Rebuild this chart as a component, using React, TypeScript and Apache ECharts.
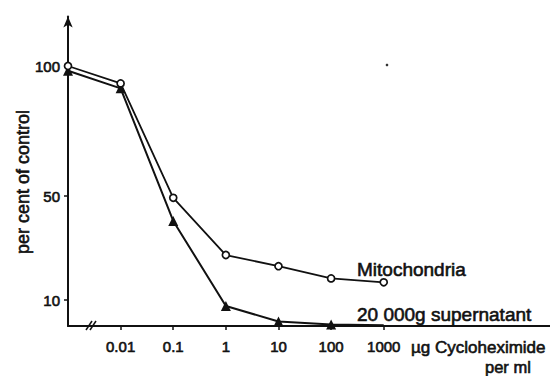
import React, { useEffect, useRef } from "react";
import * as echarts from "echarts";

// log10 of dose; control plotted at the y-axis (-3)
const doseLog = [-3, -2, -1, 0, 1, 2, 3];
const mitochondria = [100, 93.3, 49.3, 27.3, 23, 18.3, 16.8];
const supernatant = [98.2, 91.4, 40.4, 7.7, 1.7, 0.6, 0.3];
const xTickPos = [-2, -1, 0, 1, 2, 3];
const xTickLabels = ["0.01", "0.1", "1", "10", "100", "1000"];
const yTicks = [10, 50, 100];

const INK = "#111";
const FONT = "Liberation Sans, Arial, sans-serif";

export default function App() {
  const ref = useRef<HTMLDivElement>(null);
  useEffect(() => {
    if (!ref.current) return;
    const chart = echarts.init(ref.current, null, { renderer: "svg" });
    const mk = (vals: number[]) => vals.map((v, i) => [doseLog[i], v]);
    const txt = (text: string, x: number, y: number, size: number, extra: any = {}) => ({
      type: "text",
      x,
      y,
      ...extra,
      style: {
        text,
        font: `${size}px ${FONT}`,
        fill: INK,
        stroke: INK,
        lineWidth: 0.6,
        align: extra.align ?? "left",
        verticalAlign: "middle",
      },
    });
    chart.setOption({
      animation: false,
      backgroundColor: "#fff",
      grid: { left: 68, right: 0, top: 16.6, bottom: 50, containLabel: false, outerBoundsMode: "none" },
      xAxis: {
        type: "value",
        min: -3,
        max: 6.16,
        splitLine: { show: false },
        axisLine: { show: true, onZero: false, lineStyle: { color: INK, width: 2 } },
        axisTick: { show: true, customValues: xTickPos, length: 4, lineStyle: { color: INK, width: 1.5 } },
        axisLabel: {
          customValues: xTickPos,
          formatter: (v: number) => xTickLabels[xTickPos.indexOf(Math.round(v))] ?? "",
          color: INK,
          fontFamily: FONT,
          fontSize: 15,
          margin: 13,
          textBorderColor: INK,
          textBorderWidth: 0.6,
        },
      },
      yAxis: {
        type: "value",
        min: 0,
        max: 119,
        splitLine: { show: false },
        axisLine: {
          show: true,
          onZero: false,
          symbol: ["none", "arrow"],
          symbolSize: [7, 11],
          lineStyle: { color: INK, width: 2 },
        },
        axisTick: { show: true, customValues: yTicks, length: 4, lineStyle: { color: INK, width: 1.5 } },
        axisLabel: {
          customValues: yTicks,
          color: INK,
          fontFamily: FONT,
          fontSize: 15,
          margin: 8,
          textBorderColor: INK,
          textBorderWidth: 0.6,
        },
      },
      series: [
        {
          type: "line",
          data: mk(mitochondria),
          symbol: "circle",
          symbolSize: 7,
          itemStyle: { color: "#fff", borderColor: INK, borderWidth: 1.7 },
          lineStyle: { color: INK, width: 1.8 },
          z: 3,
        },
        {
          type: "line",
          data: mk(supernatant).map((p, i) =>
            i === supernatant.length - 1 ? { value: p, symbol: "none" } : p
          ),
          symbol: "triangle",
          symbolSize: 10,
          itemStyle: { color: INK },
          lineStyle: { color: INK, width: 2 },
          z: 2,
        },
      ],
      graphic: [
        { type: "line", shape: { x1: 86, y1: 330, x2: 92, y2: 321 }, style: { stroke: INK, lineWidth: 1.5 } },
        { type: "line", shape: { x1: 90, y1: 330, x2: 96, y2: 321 }, style: { stroke: INK, lineWidth: 1.5 } },
        txt("per cent of control", 23, 182, 18, { rotation: Math.PI / 2, align: "center" }),
        txt("Mitochondria", 357, 269, 19),
        txt("20 000g supernatant", 357, 314.5, 19),
        txt("µg Cycloheximide", 411, 347.5, 17),
        txt("per ml", 485, 367, 16.5),
        { type: "circle", shape: { cx: 387, cy: 65, r: 1.3 }, style: { fill: "#333" } },
      ],
    });
    return () => chart.dispose();
  }, []);
  return <div ref={ref} style={{ width: 550, height: 376, position: "absolute", left: 0, top: 0 }} />;
}
